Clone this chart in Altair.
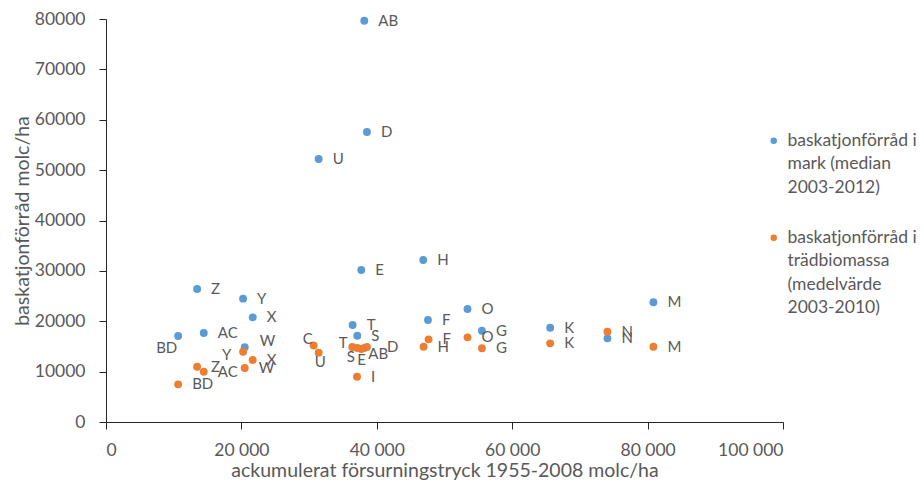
import altair as alt
import pandas as pd

# ---- data ----
series_mark = "baskatjonförråd i\nmark (median\n2003-2012)"
series_bio = "baskatjonförråd i\nträdbiomassa\n(medelvärde\n2003-2010)"

sites_mark = ["AB", "D", "U", "H", "E", "Z", "Y", "X", "M", "O", "F", "T", "S",
              "G", "K", "N", "AC", "BD", "W"]
x_mark = [38150, 38550, 31410, 46860, 37710, 13460, 20250, 21670, 80860, 53400,
          47560, 36430, 37120, 55530, 65610, 74070, 14440, 10660, 20490]
y_mark = [79660, 57570, 52200, 32160, 30170, 26400, 24480, 20780, 23760, 22430,
          20250, 19250, 17130, 18120, 18720, 16610, 17670, 17070, 14830]

sites_bio = ["C", "U", "T", "S", "E", "AB", "D", "I", "H", "F", "O", "G", "K",
             "N", "M", "Y", "X", "W", "Z", "AC", "BD"]
x_bio = [30670, 31410, 36380, 37120, 37710, 38150, 38550, 37080, 46910, 47650,
         53400, 55530, 65610, 74070, 80860, 20250, 21670, 20490, 13460, 14440, 10660]
y_bio = [15190, 13760, 14890, 14690, 14490, 14690, 14890, 8990, 14950, 16410,
         16810, 14630, 15620, 17920, 14950, 13950, 12310, 10720, 10980, 9980, 7480]

x_ticks = [0, 20000, 40000, 60000, 80000, 100000]
y_ticks = [0, 10000, 20000, 30000, 40000, 50000, 60000, 70000, 80000]

# label offsets in pixels (relative to the point), default = right of point
label_shift_mark = {"BD": (-22, 12), "W": (15, -6)}
label_shift_bio = {"C": (-11, -6.5), "U": (-4, 9), "T": (-13.5, -4), "S": (-10.5, 9),
                   "E": (-4, 11), "AB": (4, 6), "D": (20, 0), "Y": (-21, 3)}

# ---- layout ----
W, H = 677, 403
X_MAX, Y_MAX = 100000, 80000
FONT = "Lato"
TXT = "#595959"
BLUE, ORANGE = "#5B9BD5", "#ED7D31"

rows = []
for s, xv, yv in zip(sites_mark, x_mark, y_mark):
    dx, dy = label_shift_mark.get(s, (14, 0))
    rows.append(dict(serie=series_mark, site=s, x=xv, y=yv,
                     lx=xv + dx * X_MAX / W, ly=yv - dy * Y_MAX / H))
for s, xv, yv in zip(sites_bio, x_bio, y_bio):
    dx, dy = label_shift_bio.get(s, (14, 0))
    rows.append(dict(serie=series_bio, site=s, x=xv, y=yv,
                     lx=xv + dx * X_MAX / W, ly=yv - dy * Y_MAX / H))
df = pd.DataFrame(rows)

xscale = alt.Scale(domain=[0, X_MAX], nice=False, zero=True)
yscale = alt.Scale(domain=[0, Y_MAX], nice=False, zero=True)
color = alt.Color(
    "serie:N",
    scale=alt.Scale(domain=[series_mark, series_bio], range=[BLUE, ORANGE]),
    legend=alt.Legend(
        orient="none", legendX=659, legendY=113, title=None,
        labelExpr="split(datum.label, '\\n')",
        labelFont=FONT, labelFontSize=17.5, labelColor=TXT,
        labelLimit=400, labelOffset=5, labelBaseline="middle",
        symbolType="circle", symbolSize=42, symbolStrokeWidth=0,
        rowPadding=31, padding=0,
    ),
)

base = alt.Chart(df)

points = base.mark_point(filled=True, size=62, opacity=1).encode(
    x=alt.X("x:Q", scale=xscale, axis=alt.Axis(
        values=x_ticks, grid=False,
        labelExpr="replace(format(datum.value, ','), ',', ' ')",
        title="ackumulerat försurningstryck 1955-2008 molc/ha",
        tickSize=7, labelPadding=12, titlePadding=3,
    )),
    y=alt.Y("y:Q", scale=yscale, axis=alt.Axis(
        values=y_ticks, grid=False, format="d",
        title="baskatjonförråd molc/ha",
        tickSize=7, labelPadding=14, titlePadding=2,
    )),
    color=color,
)

labels = base.mark_text(align="left", baseline="middle", font=FONT,
                        fontSize=15, color=TXT).encode(
    x=alt.X("lx:Q", scale=xscale),
    y=alt.Y("ly:Q", scale=yscale),
    text="site:N",
)

chart = (points + labels).properties(
    width=W, height=H,
    autosize=alt.AutoSizeParams(type="none"),
    padding={"left": 106, "top": 19, "right": 924 - 106 - W, "bottom": 483 - 19 - H},
).configure(
    style={"guide-label": {"lineHeight": 23.5}}
).configure_view(stroke=None).configure_axis(
    labelFont=FONT, labelFontSize=17.5, labelColor=TXT,
    titleFont=FONT, titleFontSize=19.5, titleColor=TXT, titleFontWeight="normal",
    domainColor="#262626", tickColor="#262626", domainWidth=1, tickWidth=1,
)

chart.save("out.html", embed_options={"renderer": "svg", "actions": False})
